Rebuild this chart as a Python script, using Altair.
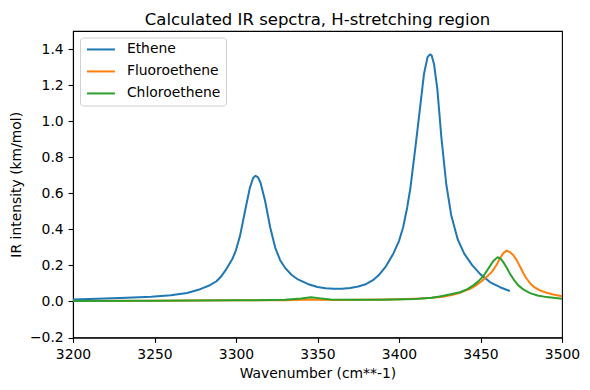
import altair as alt
import pandas as pd

series_names = ["Ethene", "Fluoroethene", "Chloroethene"]
series_colors = ["#1f77b4", "#ff7f0e", "#2ca02c"]

ethene_x = [3200, 3215, 3233, 3248, 3260, 3270, 3278, 3284, 3288, 3291, 3294, 3298, 3300,
            3302.5, 3305.5, 3308.5, 3310.5, 3312, 3313.5, 3315, 3317.8, 3321, 3324, 3327, 3330,
            3334, 3338, 3344, 3350, 3355, 3360, 3365, 3370, 3375, 3380, 3384, 3388, 3392,
            3396.5, 3400, 3402.5, 3405, 3407, 3410, 3413, 3415.3, 3417.5, 3419, 3420, 3421.5,
            3423.5, 3426, 3429, 3432, 3436, 3440, 3445, 3450, 3456, 3462, 3468]
ethene_y = [0.011, 0.015, 0.020, 0.026, 0.034, 0.047, 0.068, 0.090, 0.112, 0.140, 0.178, 0.240, 0.285,
            0.365, 0.500, 0.630, 0.685, 0.697, 0.688, 0.660, 0.560, 0.410, 0.300, 0.230, 0.188,
            0.148, 0.122, 0.097, 0.080, 0.073, 0.070, 0.071, 0.075, 0.083, 0.097, 0.118, 0.150, 0.195,
            0.265, 0.335, 0.410, 0.520, 0.630, 0.850, 1.080, 1.260, 1.355, 1.370, 1.365, 1.315,
            1.180, 0.910, 0.650, 0.480, 0.345, 0.265, 0.200, 0.150, 0.106, 0.079, 0.058]

fluoro_x = [3200, 3250, 3300, 3330, 3340, 3346, 3352, 3360, 3380, 3400, 3413, 3420, 3427, 3433,
            3438, 3443.6, 3447, 3450.7, 3454, 3457, 3460, 3462, 3464, 3466, 3468, 3470, 3472,
            3474, 3476, 3478, 3480.5, 3483, 3486.5, 3490, 3494.7, 3500]
fluoro_y = [0.003, 0.004, 0.006, 0.007, 0.009, 0.011, 0.009, 0.008, 0.009, 0.012, 0.016, 0.020, 0.026, 0.037,
            0.050, 0.070, 0.088, 0.112, 0.138, 0.164, 0.205, 0.240, 0.268, 0.282, 0.274, 0.258, 0.232,
            0.198, 0.162, 0.130, 0.100, 0.079, 0.061, 0.050, 0.039, 0.029]

chloro_x = [3200, 3250, 3300, 3330, 3340, 3346, 3352, 3358, 3370, 3390, 3410, 3420, 3425, 3431,
            3437.4, 3442, 3445.6, 3448.5, 3451.7, 3455.8, 3458, 3460.5, 3462.3, 3464, 3466, 3468.1,
            3470.5, 3473.2, 3476.5, 3480.4, 3485, 3490.6, 3500]
chloro_y = [0.003, 0.004, 0.006, 0.009, 0.016, 0.023, 0.017, 0.011, 0.009, 0.010, 0.014, 0.020, 0.028, 0.038,
            0.051, 0.068, 0.089, 0.110, 0.140, 0.196, 0.226, 0.245, 0.238, 0.218, 0.188, 0.153,
            0.120, 0.089, 0.065, 0.046, 0.033, 0.024, 0.015]

x_ticks = [3200, 3250, 3300, 3350, 3400, 3450, 3500]
y_ticks = [-0.2, 0.0, 0.2, 0.4, 0.6, 0.8, 1.0, 1.2, 1.4]

rows = []
for name, xs, ys in zip(series_names, [ethene_x, fluoro_x, chloro_x], [ethene_y, fluoro_y, chloro_y]):
    for i, (xv, yv) in enumerate(zip(xs, ys)):
        rows.append({"series": name, "wn": xv, "ir": yv, "i": i})
df = pd.DataFrame(rows)

FONT = "DejaVu Sans"

chart = alt.Chart(df).mark_line(strokeWidth=2.0, strokeJoin="round").encode(
    x=alt.X("wn:Q",
            scale=alt.Scale(domain=[3200, 3500], nice=False, zero=False),
            axis=alt.Axis(title="Wavenumber (cm**-1)", values=x_ticks, format="d", labelFlush=False)),
    y=alt.Y("ir:Q",
            scale=alt.Scale(domain=[-0.2, 1.5], nice=False, zero=False),
            axis=alt.Axis(title="IR intensity (km/mol)", values=y_ticks, format=".1f", labelFlush=False)),
    color=alt.Color("series:N",
                    scale=alt.Scale(domain=series_names, range=series_colors),
                    legend=alt.Legend(title=None, orient="none", legendX=7, legendY=6.5,
                                      symbolType="M-1,0H4.6", symbolSize=100,
                                      symbolStrokeWidth=2.0, labelOffset=28,
                                      labelFont=FONT, labelFontSize=13.9, labelColor="black",
                                      rowPadding=7, padding=5, strokeColor="#d0d0d0",
                                      fillColor="white", cornerRadius=3)),
    order="i:Q",
).properties(
    width=489, height=306.5,
    title=alt.TitleParams("Calculated IR sepctra, H-stretching region", font=FONT, fontSize=16.5,
                          fontWeight="normal", color="black", anchor="middle", frame="group",
                          offset=3),
    autosize="none",
    padding={"left": 65, "top": 23, "right": 20, "bottom": 44},
).configure_axis(
    labelFont=FONT, labelFontSize=13.9, labelColor="black",
    titleFont=FONT, titleFontSize=13.9, titleColor="black", titleFontWeight="normal",
    tickColor="black", tickSize=4.9, tickWidth=1.1, labelPadding=4.9,
    domainColor="black", domainWidth=1.1, grid=False,
).configure_axisX(titlePadding=5).configure_axisY(titlePadding=5.6).configure_view(
    stroke="black", strokeWidth=1.1
)

chart.save("out.html", embed_options={"renderer": "svg", "actions": False})
